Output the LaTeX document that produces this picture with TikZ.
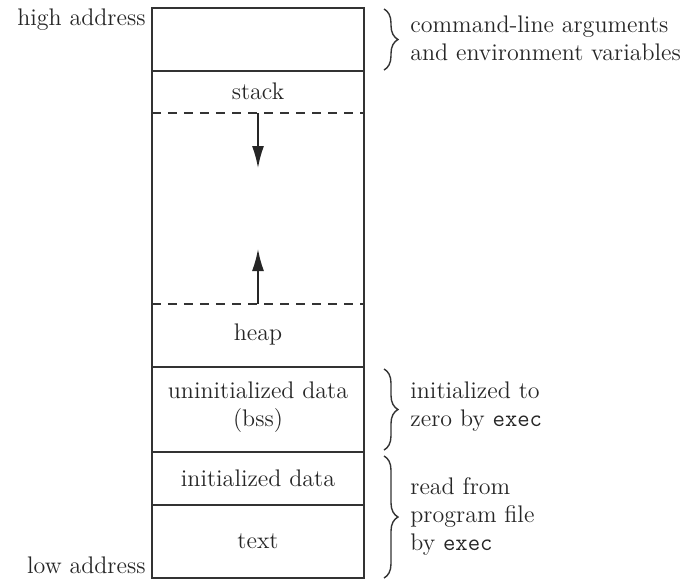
\documentclass[tikz,border=0pt]{standalone}
\usepackage{tikz}
\usetikzlibrary{arrows.meta,decorations.pathreplacing}

\begin{document}
\begin{tikzpicture}[
  x=0.5pt, y=-0.5pt,
  >={Latex[length=11pt,width=6pt]},
  seg/.style={font=\large, text=black!85, align=center},
  note/.style={font=\large, text=black!85, align=left, anchor=west, inner sep=0pt},
  wall/.style={line width=0.7pt, black!80},
  gap/.style={line width=0.7pt, black!80, dash pattern=on 4.5pt off 3.5pt},
  growline/.style={->, line width=0.8pt, black!85},
  curly/.style={decorate, decoration={brace, amplitude=7pt}, line width=0.7pt, black!80},
]
\useasboundingbox (0,0) rectangle (693,580);

% Memory column
\draw[wall] (152,8) rectangle (364,578);
\draw[wall] (152,71) -- (364,71);
\draw[wall] (152,367) -- (364,367);
\draw[wall] (152,452) -- (364,452);
\draw[wall] (152,505) -- (364,505);
\draw[gap] (152,113) -- (364,113);
\draw[gap] (152,304) -- (364,304);

% Addresses
\node[seg, anchor=east, inner sep=0pt] (hi) at (146,20) {high address};
\node[seg, anchor=east, inner sep=0pt] (lo) at (146,565) {low address};

% Segments
\node[seg] (stack) at (258,91) {stack};
\node[seg] (heap) at (258,334) {heap};
\node[seg] (bss) at (258,407) {uninitialized data\\(bss)};
\node[seg] (data) at (258,478) {initialized data};
\node[seg] (text) at (258,541) {text};

% Growth of stack and heap
\coordinate (sbase) at (258,113);
\coordinate (stip) at (258,168);
\coordinate (hbase) at (258,304);
\coordinate (htip) at (258,249);
\draw[growline] (sbase) -- (stip);
\draw[growline] (hbase) -- (htip);

% Braces
\coordinate (b1a) at (384,9);
\coordinate (b1b) at (384,70);
\coordinate (b2a) at (384,369);
\coordinate (b2b) at (384,450);
\coordinate (b3a) at (384,456);
\coordinate (b3b) at (384,578);
\draw[curly] (b1a) -- (b1b);
\draw[curly] (b2a) -- (b2b);
\draw[curly] (b3a) -- (b3b);

\node[note] (argsnote) at (410,38) {command-line arguments\\and environment variables};
\node[note] (bssnote) at (410,407) {initialized to\\zero by {\ttfamily exec}};
\node[note] (filenote) at (410,516) {read from\\program file\\by {\ttfamily exec}};

\end{tikzpicture}
\end{document}
